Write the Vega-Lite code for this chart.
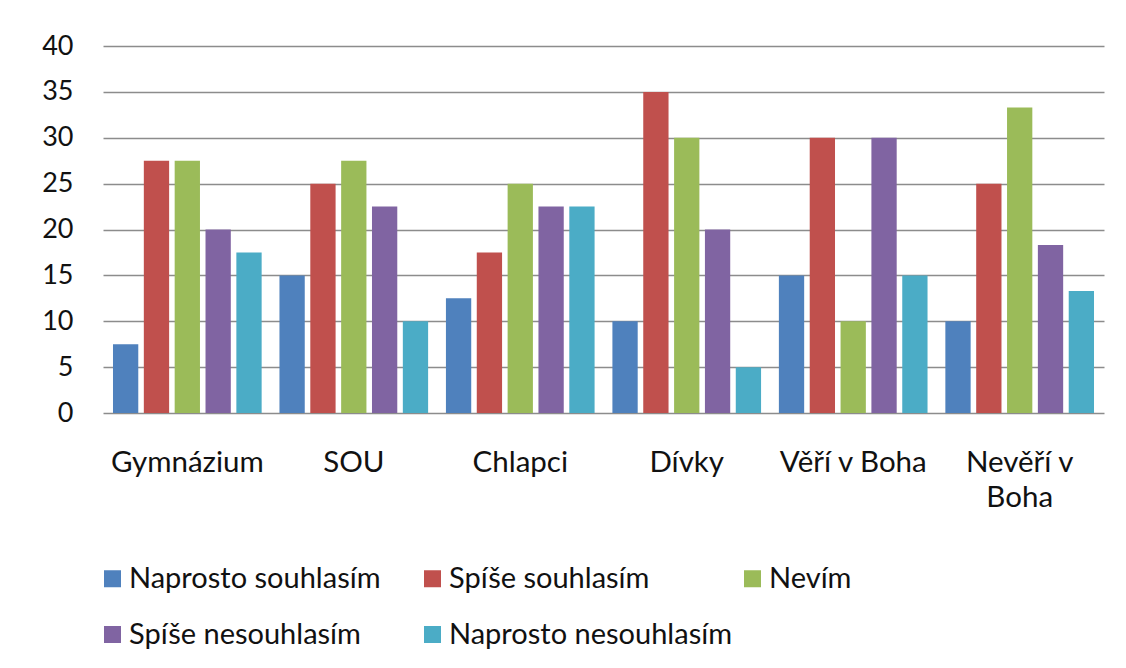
{
  "$schema": "https://vega.github.io/schema/vega-lite/v6.json",
  "width": 1001,
  "height": 367,
  "autosize": "none",
  "padding": {"left": 103, "top": 46, "right": 22, "bottom": 255},
  "background": "white",
  "config": {
    "font": "Lato",
    "view": {"stroke": null},
    "axis": {"labelFont": "Lato", "labelColor": "#111111", "labelFontSize": 27}
  },
  "data": {
    "values": [
      {"kategorie": "Gymnázium", "odpoved": "Naprosto souhlasím", "hodnota": 7.5},
      {"kategorie": "Gymnázium", "odpoved": "Spíše souhlasím", "hodnota": 27.5},
      {"kategorie": "Gymnázium", "odpoved": "Nevím", "hodnota": 27.5},
      {"kategorie": "Gymnázium", "odpoved": "Spíše nesouhlasím", "hodnota": 20},
      {"kategorie": "Gymnázium", "odpoved": "Naprosto nesouhlasím", "hodnota": 17.5},
      {"kategorie": "SOU", "odpoved": "Naprosto souhlasím", "hodnota": 15},
      {"kategorie": "SOU", "odpoved": "Spíše souhlasím", "hodnota": 25},
      {"kategorie": "SOU", "odpoved": "Nevím", "hodnota": 27.5},
      {"kategorie": "SOU", "odpoved": "Spíše nesouhlasím", "hodnota": 22.5},
      {"kategorie": "SOU", "odpoved": "Naprosto nesouhlasím", "hodnota": 10},
      {"kategorie": "Chlapci", "odpoved": "Naprosto souhlasím", "hodnota": 12.5},
      {"kategorie": "Chlapci", "odpoved": "Spíše souhlasím", "hodnota": 17.5},
      {"kategorie": "Chlapci", "odpoved": "Nevím", "hodnota": 25},
      {"kategorie": "Chlapci", "odpoved": "Spíše nesouhlasím", "hodnota": 22.5},
      {"kategorie": "Chlapci", "odpoved": "Naprosto nesouhlasím", "hodnota": 22.5},
      {"kategorie": "Dívky", "odpoved": "Naprosto souhlasím", "hodnota": 10},
      {"kategorie": "Dívky", "odpoved": "Spíše souhlasím", "hodnota": 35},
      {"kategorie": "Dívky", "odpoved": "Nevím", "hodnota": 30},
      {"kategorie": "Dívky", "odpoved": "Spíše nesouhlasím", "hodnota": 20},
      {"kategorie": "Dívky", "odpoved": "Naprosto nesouhlasím", "hodnota": 5},
      {"kategorie": "Věří v Boha", "odpoved": "Naprosto souhlasím", "hodnota": 15},
      {"kategorie": "Věří v Boha", "odpoved": "Spíše souhlasím", "hodnota": 30},
      {"kategorie": "Věří v Boha", "odpoved": "Nevím", "hodnota": 10},
      {"kategorie": "Věří v Boha", "odpoved": "Spíše nesouhlasím", "hodnota": 30},
      {"kategorie": "Věří v Boha", "odpoved": "Naprosto nesouhlasím", "hodnota": 15},
      {"kategorie": "Nevěří v Boha", "odpoved": "Naprosto souhlasím", "hodnota": 10},
      {"kategorie": "Nevěří v Boha", "odpoved": "Spíše souhlasím", "hodnota": 25},
      {"kategorie": "Nevěří v Boha", "odpoved": "Nevím", "hodnota": 33.3},
      {"kategorie": "Nevěří v Boha", "odpoved": "Spíše nesouhlasím", "hodnota": 18.3},
      {"kategorie": "Nevěří v Boha", "odpoved": "Naprosto nesouhlasím", "hodnota": 13.3}
    ]
  },
  "mark": {"type": "bar"},
  "encoding": {
    "x": {
      "field": "kategorie",
      "type": "nominal",
      "sort": ["Gymnázium", "SOU", "Chlapci", "Dívky", "Věří v Boha", "Nevěří v Boha"],
      "scale": {"paddingInner": 0.107, "paddingOuter": 0.06},
      "axis": {
        "title": null,
        "labelAngle": 0,
        "domain": false,
        "ticks": false,
        "labelFontSize": 29.5,
        "labelPadding": 35,
        "labelLineHeight": 35,
        "labelExpr": "datum.value == 'Nevěří v Boha' ? ['Nevěří v', 'Boha'] : datum.value"
      }
    },
    "xOffset": {
      "field": "odpoved",
      "type": "nominal",
      "sort": ["Naprosto souhlasím", "Spíše souhlasím", "Nevím", "Spíše nesouhlasím", "Naprosto nesouhlasím"],
      "scale": {"paddingInner": 0.18, "paddingOuter": 0}
    },
    "y": {
      "field": "hodnota",
      "type": "quantitative",
      "scale": {"domain": [0, 40], "nice": false},
      "axis": {
        "title": null,
        "values": [0, 5, 10, 15, 20, 25, 30, 35, 40],
        "domain": false,
        "ticks": false,
        "labelPadding": 30,
        "gridColor": "#8c8c8c",
        "gridWidth": 1.3,
        "gridOpacity": 1
      }
    },
    "color": {
      "field": "odpoved",
      "type": "nominal",
      "sort": ["Naprosto souhlasím", "Spíše souhlasím", "Nevím", "Spíše nesouhlasím", "Naprosto nesouhlasím"],
      "scale": {"range": ["#4F81BD", "#C0504D", "#9BBB59", "#8064A2", "#4BACC6"]},
      "legend": {
        "title": null,
        "orient": "none",
        "legendX": -5,
        "legendY": 518,
        "direction": "horizontal",
        "columns": 3,
        "gridAlign": "all",
        "columnPadding": 6,
        "rowPadding": 26,
        "padding": 0,
        "symbolType": "square",
        "symbolSize": 289,
        "symbolStrokeWidth": 0,
        "labelFont": "Lato",
        "labelFontSize": 29,
        "labelColor": "#111111",
        "labelOffset": 2,
        "labelLimit": 400
      }
    }
  }
}
